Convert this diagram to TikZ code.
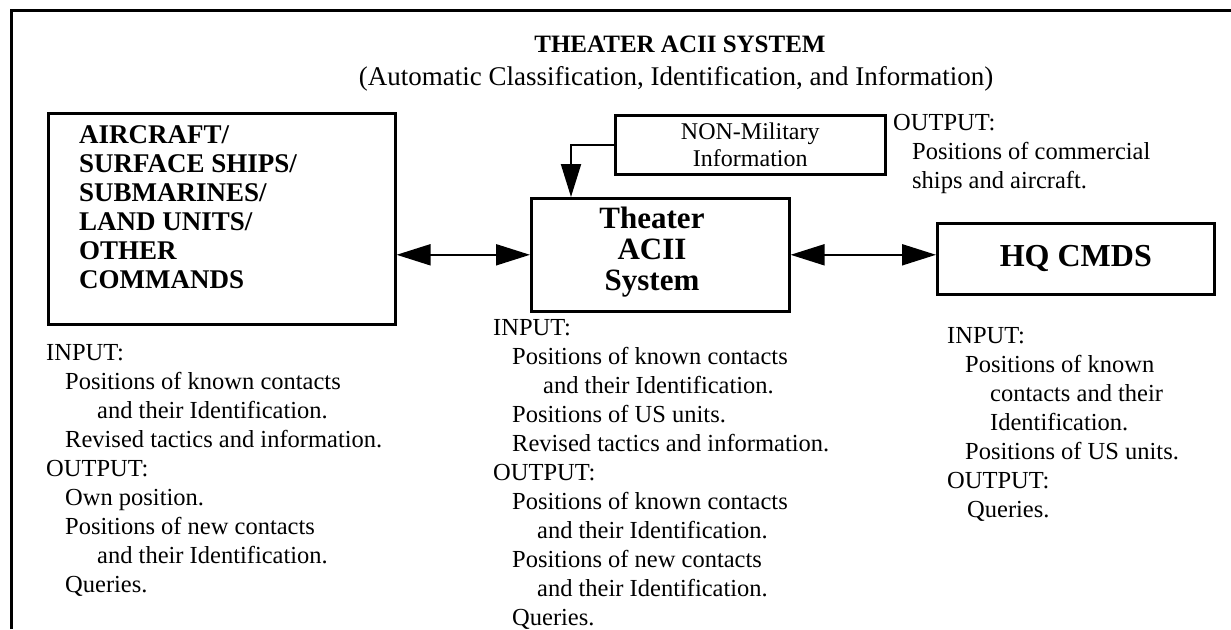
\documentclass[tikz,border=0pt]{standalone}
\usepackage{fontspec}
\setmainfont{Liberation Serif}
\usetikzlibrary{arrows.meta,calc}
\begin{document}
\begin{tikzpicture}[x=1pt,y=-1pt,
  box/.style={draw,line width=2.6pt,inner sep=0pt,anchor=north west},
  col/.style={align=left,inner sep=0pt,anchor=north west,font=\fontsize{24.5}{29}\selectfont},
  conn/.style={line width=2pt},
  dbl/.style={conn,{Triangle[length=34pt,width=21pt]}-{Triangle[length=34pt,width=21pt]}},
  sgl/.style={conn,-{Triangle[length=33pt,width=20pt]}}]
\useasboundingbox (0,0) rectangle (1231,629);
% frame (top and left edges only)
\draw[line width=3pt] (11,629) -- (11,10) -- (1231,10);
% titles
\node[font=\fontsize{25}{29}\selectfont\bfseries,inner sep=0pt] (title) at (680,44) {THEATER ACII SYSTEM};
\node[font=\fontsize{27}{29}\selectfont,inner sep=0pt] (subtitle) at (676,79) {(Automatic Classification, Identification, and Information)};
% boxes
\node[box,minimum width=347pt,minimum height=211pt] (lbox) at (47,112) {};
\node[align=left,inner sep=0pt,anchor=north west,font=\fontsize{27}{29}\selectfont\bfseries] (ltext) at (79,125)
  {AIRCRAFT/\\SURFACE SHIPS/\\SUBMARINES/\\LAND UNITS/\\OTHER\\COMMANDS};
\node[box,minimum width=258pt,minimum height=113pt] (cbox) at (530,197) {};
\node[align=center,inner sep=0pt,font=\fontsize{31}{31}\selectfont\bfseries] (ctext) at (652,252)
  {Theater\\ACII\\System};
\node[box,minimum width=270pt,minimum height=59pt,align=center,font=\fontsize{24}{27}\selectfont] (nonm) at (614,114)
  {NON-Military\\Information};
\node[box,minimum width=277pt,minimum height=71pt,font=\fontsize{32}{32}\selectfont\bfseries] (hq) at (936,222)
  {HQ CMDS};
% connectors
\coordinate (kx) at (571,0);
\draw[dbl] (lbox.east |- cbox.east) -- (cbox.west);
\draw[dbl] (cbox.east) -- (hq.west |- cbox.east);
\draw[sgl] (nonm.west) -- (nonm.west -| kx) -- (kx |- cbox.north);
% text columns
\node[col] (nonout) at (893,114)
  {OUTPUT:\\
   \hspace*{19pt}Positions of commercial\\
   \hspace*{19pt}ships and aircraft.};
\node[col] (lcol) at (46,344)
  {INPUT:\\
   \hspace*{19pt}Positions of known contacts\\
   \hspace*{51pt}and their Identification.\\
   \hspace*{19pt}Revised tactics and information.\\
   OUTPUT:\\
   \hspace*{19pt}Own position.\\
   \hspace*{19pt}Positions of new contacts\\
   \hspace*{51pt}and their Identification.\\
   \hspace*{19pt}Queries.};
\node[col] (ccol) at (493,319)
  {INPUT:\\
   \hspace*{19pt}Positions of known contacts\\
   \hspace*{50pt}and their Identification.\\
   \hspace*{19pt}Positions of US units.\\
   \hspace*{19pt}Revised tactics and information.\\
   OUTPUT:\\
   \hspace*{19pt}Positions of known contacts\\
   \hspace*{44pt}and their Identification.\\
   \hspace*{19pt}Positions of new contacts\\
   \hspace*{44pt}and their Identification.\\
   \hspace*{19pt}Queries.};
\node[col] (rcol) at (947,327)
  {INPUT:\\
   \hspace*{18pt}Positions of known\\
   \hspace*{43pt}contacts and their\\
   \hspace*{43pt}Identification.\\
   \hspace*{18pt}Positions of US units.\\
   OUTPUT:\\
   \hspace*{20pt}Queries.};
\end{tikzpicture}
\end{document}
